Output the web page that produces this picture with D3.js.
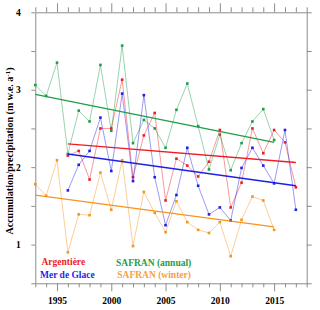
<!DOCTYPE html>
<html>
<head>
<meta charset="utf-8">
<script src="https://cdn.jsdelivr.net/npm/d3@7"></script>
<style>
  body { margin: 0; background: #fff; }
  svg { display: block; }
  text { font-family: "Liberation Serif", "DejaVu Serif", serif; font-weight: bold; }
</style>
</head>
<body>
<script>
// values
var annualYears = d3.range(1993, 2016);
var safranAnnual = [3.06, 2.92, 3.35, 2.17, 2.73, 2.59, 3.32, 2.47, 3.57, 2.31, 2.61, 2.50,
                    2.25, 2.74, 3.08, 2.53, 1.97, 2.42, 1.96, 2.31, 2.59, 2.75, 2.35];
var safranWinter = [1.78, 1.63, 2.09, 0.90, 1.39, 1.38, 1.93, 1.45, 2.09, 0.98, 1.68, 1.41,
                    1.16, 1.56, 1.29, 1.19, 1.15, 1.29, 0.85, 1.32, 1.62, 1.57, 1.19];
var glacierYears = d3.range(1996, 2018);
var argentiere = [2.15, 2.21, 1.84, 2.50, 2.50, 3.13, 1.87, 2.41, 2.70, 1.57, 2.11,
                  2.02, 1.88, 2.07, 2.48, 1.48, 1.80, 2.50, 2.18, 2.48, 2.32, 1.74];
var merDeGlace = [1.70, 2.03, 2.21, 2.64, 1.95, 2.95, 1.82, 2.93, 1.87, 1.25, 1.64,
                  2.25, 1.76, 1.39, 1.48, 1.31, 1.99, 2.25, 2.02, 1.79, 2.48, 1.45];

// trend lines: [start, end] values
var trendAnnual = [2.94, 2.32];
var trendWinter = [1.64, 1.23];
var trendArgentiere = [2.30, 2.06];
var trendMerDeGlace = [2.17, 1.76];

var yTicks = d3.range(0.5, 4.01, 0.5);
var xTicks = d3.range(1993, 2019);

var width = 320, height = 310;
var plotLeft = 35.3, plotRight = 306.7, plotTop = 12.3, plotBottom = 283.3;

var svg = d3.select("body").append("svg")
    .attr("width", width)
    .attr("height", height);

var x = d3.scaleLinear().domain([1993, 2018]).range([plotLeft, plotRight]);
var y = d3.scaleLinear().domain([0.5, 4]).range([plotBottom, plotTop]);

var axisColor = "#8c8c8c";

function styleAxis(g) {
    g.select(".domain").attr("stroke", axisColor);
    g.selectAll(".tick line").attr("stroke", axisColor);
    g.selectAll("text").attr("fill", "#000").attr("font-size", "9.5px")
        .attr("font-family", "Liberation Serif, serif").attr("font-weight", "bold");
}

// bottom
var gx = svg.append("g").attr("transform", "translate(0," + plotBottom + ")")
    .call(d3.axisBottom(x).tickValues(xTicks).tickSize(4).tickSizeOuter(0)
        .tickFormat(function(d) { return d % 5 == 0 ? d : ""; }));
gx.selectAll(".tick line").attr("y2", function(d) { return d % 5 == 0 ? 8 : 4; });
gx.selectAll(".tick text").attr("y", 14);
styleAxis(gx);

// top
var gt = svg.append("g").attr("transform", "translate(0," + plotTop + ")")
    .call(d3.axisTop(x).tickValues(xTicks).tickSize(5).tickSizeOuter(0).tickFormat(""));
gt.selectAll(".tick line").attr("y2", function(d) { return d % 5 == 0 ? -9 : -5; });
styleAxis(gt);

// left
var gy = svg.append("g").attr("transform", "translate(" + plotLeft + ",0)")
    .call(d3.axisLeft(y).tickValues(yTicks).tickSize(4).tickSizeOuter(0).tickPadding(10.5)
        .tickFormat(function(d) { return d % 1 == 0 ? d : ""; }));
styleAxis(gy);

// right
var gr = svg.append("g").attr("transform", "translate(" + plotRight + ",0)")
    .call(d3.axisRight(y).tickValues(yTicks).tickSize(5).tickSizeOuter(0).tickFormat(""));
styleAxis(gr);

// y title
var title = svg.append("text")
    .attr("transform", "translate(13,151) rotate(-90)")
    .attr("text-anchor", "middle")
    .attr("font-size", "10px");
title.append("tspan").text("Accumulation/precipitation (m w.e. a");
title.append("tspan").attr("dy", -3.5).attr("font-size", "7px").text("-1");
title.append("tspan").attr("dy", 3.5).text(")");

var series = [
    {years: annualYears, values: safranAnnual, color: "#1e9e46", trend: trendAnnual},
    {years: annualYears, values: safranWinter, color: "#f7941d", trend: trendWinter},
    {years: glacierYears, values: argentiere, color: "#ee1c25", trend: trendArgentiere},
    {years: glacierYears, values: merDeGlace, color: "#1f1fe6", trend: trendMerDeGlace}
];

var line = d3.line()
    .x(function(d) { return x(d[0]); })
    .y(function(d) { return y(d[1]); });

series.forEach(function(s) {
    var pts = s.years.map(function(yr, i) { return [yr, s.values[i]]; });
    svg.append("path")
        .datum(pts)
        .attr("fill", "none")
        .attr("stroke", s.color)
        .attr("stroke-opacity", 0.45)
        .attr("stroke-width", 1)
        .attr("d", line);
    svg.selectAll(null)
        .data(pts)
        .enter().append("rect")
        .attr("x", function(d) { return x(d[0]) - 1.3; })
        .attr("y", function(d) { return y(d[1]) - 1.3; })
        .attr("width", 2.6)
        .attr("height", 2.6)
        .attr("fill", s.color);
});

series.forEach(function(s) {
    var first = s.years[0], last = s.years[s.years.length - 1];
    svg.append("path")
        .datum([[first, s.trend[0]], [last, s.trend[1]]])
        .attr("fill", "none")
        .attr("stroke", s.color)
        .attr("stroke-width", 1.3)
        .attr("d", line);
});

// legend
var legend = [
    {label: "Argentière", color: "#ee1c25", x: 41.5, y: 264.5},
    {label: "Mer de Glace", color: "#1f1fe6", x: 40, y: 277.7},
    {label: "SAFRAN (annual)", color: "#1e9e46", x: 116, y: 265.7},
    {label: "SAFRAN (winter)", color: "#f9a040", x: 117.3, y: 277.7}
];
svg.selectAll(".legend")
    .data(legend)
    .enter().append("text")
    .attr("class", "legend")
    .attr("x", function(d) { return d.x; })
    .attr("y", function(d) { return d.y; })
    .attr("font-size", "9.5px")
    .attr("fill", function(d) { return d.color; })
    .text(function(d) { return d.label; });
</script>
</body>
</html>
